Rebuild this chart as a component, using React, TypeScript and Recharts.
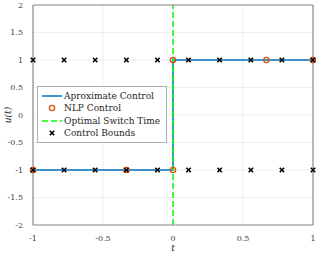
import React from 'react';
import {
  ComposedChart, Line, Scatter, XAxis, YAxis, CartesianGrid, ReferenceLine, Legend,
} from 'recharts';

const xTicks = [-1, -0.5, 0, 0.5, 1];
const yTicks = [-2, -1.5, -1, -0.5, 0, 0.5, 1, 1.5, 2];

const approxControl = [
  { t: -1, u: -1 },
  { t: 0, u: -1 },
  { t: 0, u: 1 },
  { t: 1, u: 1 },
];

const nlpControl = [
  { t: -1, u: -1 },
  { t: -0.333, u: -1 },
  { t: 0, u: -1 },
  { t: 0, u: 1 },
  { t: 0.667, u: 1 },
  { t: 1, u: 1 },
];

const boundTimes = [-1, -0.778, -0.556, -0.333, -0.111, 0.111, 0.333, 0.556, 0.778, 1];
const upperBound = boundTimes.map((t) => ({ t, u: 1 }));
const lowerBound = boundTimes.map((t) => ({ t, u: -1 }));

const switchTime = 0;

const FONT = '"DejaVu Serif", "Liberation Serif", serif';
const BLUE = '#0072BD';
const ORANGE = '#D95319';
const GREEN = '#00FF00';

const XMark = (props: any) => {
  const { cx, cy } = props;
  const s = 2.2;
  return (
    <g stroke="#000" strokeWidth={1.6}>
      <line x1={cx - s} y1={cy - s} x2={cx + s} y2={cy + s} />
      <line x1={cx - s} y1={cy + s} x2={cx + s} y2={cy - s} />
    </g>
  );
};

const Ring = (props: any) => {
  const { cx, cy } = props;
  return <circle cx={cx} cy={cy} r={2.6} fill="none" stroke={ORANGE} strokeWidth={1.4} />;
};

const LegendBox = () => {
  const row: React.CSSProperties = { display: 'flex', alignItems: 'center', height: 12.3 };
  const label: React.CSSProperties = { marginLeft: 2 };
  return (
    <div
      style={{
        background: '#fff',
        border: '1px solid #b0b0b0',
        padding: '3px 6px 3px 4px',
        fontFamily: FONT,
        fontSize: 9,
        color: '#262626',
        lineHeight: '12px',
        whiteSpace: 'nowrap',
      }}
    >
      <div style={row}>
        <svg width={20} height={12}><line x1={0} y1={6} x2={20} y2={6} stroke={BLUE} strokeWidth={1.5} /></svg>
        <span style={label}>Aproximate Control</span>
      </div>
      <div style={row}>
        <svg width={20} height={12}><circle cx={10} cy={6} r={2.6} fill="none" stroke={ORANGE} strokeWidth={1.4} /></svg>
        <span style={label}>NLP Control</span>
      </div>
      <div style={row}>
        <svg width={20} height={12}><line x1={0} y1={6} x2={20} y2={6} stroke={GREEN} strokeWidth={1.5} strokeDasharray="6 3" /></svg>
        <span style={label}>Optimal Switch Time</span>
      </div>
      <div style={row}>
        <svg width={20} height={12}><XMark cx={10} cy={6} /></svg>
        <span style={label}>Control Bounds</span>
      </div>
    </div>
  );
};

export default function App() {
  const tickStyle = { fontFamily: FONT, fontSize: 8, fill: '#404040' };
  return (
    <div style={{ position: 'absolute', left: 0, top: 0 }}>
      <ComposedChart width={316} height={253} margin={{ top: 5, right: 3, left: 0, bottom: 0 }}>
        <CartesianGrid stroke="#e8e8e8" strokeWidth={0.8} />
        <XAxis
          dataKey="t"
          type="number"
          domain={[-1, 1]}
          ticks={xTicks}
          allowDuplicatedCategory={false}
          height={28}
          tick={tickStyle}
          tickLine={false}
          tickMargin={4}
          axisLine={{ stroke: '#8c8c8c', strokeWidth: 1.2 }}
          label={{ value: 't', position: 'center', dy: 9, style: { fontFamily: FONT, fontStyle: 'italic', fontSize: 9, fill: '#262626' } }}
        />
        <XAxis
          xAxisId="top"
          orientation="top"
          type="number"
          domain={[-1, 1]}
          ticks={xTicks}
          mirror
          tick={false}
          tickSize={3}
          tickLine={{ stroke: '#8c8c8c' }}
          axisLine={{ stroke: '#8c8c8c', strokeWidth: 1.2 }}
        />
        <YAxis
          type="number"
          domain={[-2, 2]}
          ticks={yTicks}
          width={33}
          tick={tickStyle}
          tickLine={false}
          tickMargin={4}
          axisLine={{ stroke: '#8c8c8c', strokeWidth: 1.2 }}
          label={{ value: 'u(t)', angle: -90, position: 'center', dx: -9, style: { fontFamily: FONT, fontStyle: 'italic', fontSize: 9, fill: '#262626' } }}
        />
        <YAxis
          yAxisId="right"
          orientation="right"
          type="number"
          domain={[-2, 2]}
          ticks={yTicks}
          mirror
          tick={false}
          tickSize={3}
          tickLine={{ stroke: '#8c8c8c' }}
          axisLine={{ stroke: '#8c8c8c', strokeWidth: 1.2 }}
        />
        <Line
          data={approxControl}
          dataKey="u"
          type="linear"
          stroke={BLUE}
          strokeWidth={1.5}
          dot={false}
          isAnimationActive={false}
        />
        <Scatter data={nlpControl} dataKey="u" shape={<Ring />} isAnimationActive={false} />
        <ReferenceLine x={switchTime} stroke={GREEN} strokeWidth={1.5} strokeDasharray="6 3" />
        <Scatter data={upperBound} dataKey="u" shape={<XMark />} isAnimationActive={false} />
        <Scatter data={lowerBound} dataKey="u" shape={<XMark />} isAnimationActive={false} />
        <Legend
          layout="vertical"
          align="center"
          verticalAlign="middle"
          content={() => <LegendBox />}
          wrapperStyle={{ left: 37, top: 86, width: 'auto', height: 'auto' }}
        />
      </ComposedChart>
    </div>
  );
}
